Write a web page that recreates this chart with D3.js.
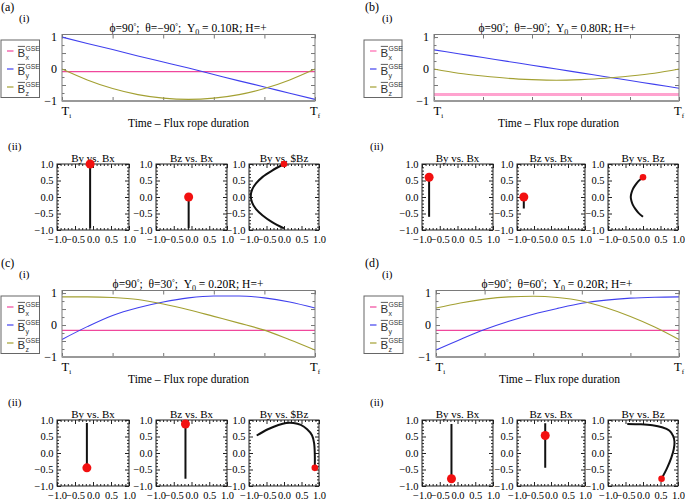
<!DOCTYPE html>
<html><head><meta charset="utf-8">
<script src="https://cdn.jsdelivr.net/npm/d3@7"></script>
<style>body{margin:0;background:#fff}svg{display:block}</style>
</head><body>
<script>
// ---------------- DATA ----------------
const timeFrac = [0, 0.1, 0.2, 0.3, 0.4, 0.5, 0.6, 0.7, 0.8, 0.9, 1.0];

const panelLabels = ["(a)", "(b)", "(c)", "(d)"];
const phiDeg   = ["90", "90", "90", "90"];
const thetaDeg = ["−90", "−90", "30", "60"];
const y0R      = ["0.10", "0.80", "0.20", "0.20"];
const helicity = ["+", "+", "+", "+"];

// panel (a)
const bxA = [-0.08, -0.08, -0.08, -0.08, -0.08, -0.08, -0.08, -0.08, -0.08, -0.08, -0.08];
const byA = [1.00, 0.80, 0.61, 0.41, 0.22, 0.03, -0.17, -0.37, -0.56, -0.76, -0.95];
const bzA = [0.00, -0.34, -0.61, -0.80, -0.91, -0.95, -0.91, -0.80, -0.61, -0.34, 0.00];
// panel (b)
const bxB = [-0.80, -0.80, -0.80, -0.80, -0.80, -0.80, -0.80, -0.80, -0.80, -0.80, -0.80];
const byB = [0.60, 0.48, 0.36, 0.24, 0.12, 0.00, -0.12, -0.24, -0.36, -0.48, -0.60];
const bzB = [0.00, -0.13, -0.22, -0.29, -0.33, -0.35, -0.33, -0.29, -0.22, -0.13, 0.00];
// panel (c)
const bxC = [-0.17, -0.17, -0.17, -0.17, -0.17, -0.17, -0.17, -0.17, -0.17, -0.17, -0.17];
const byC = [-0.45, -0.05, 0.30, 0.54, 0.72, 0.85, 0.91, 0.91, 0.85, 0.72, 0.53];
const bzC = [0.88, 0.88, 0.86, 0.80, 0.66, 0.48, 0.27, 0.06, -0.16, -0.46, -0.78];
// panel (d)
const bxD = [-0.17, -0.17, -0.17, -0.17, -0.17, -0.17, -0.17, -0.17, -0.17, -0.17, -0.17];
const byD = [-0.78, -0.45, -0.14, 0.12, 0.34, 0.52, 0.68, 0.78, 0.84, 0.87, 0.88];
const bzD = [0.53, 0.69, 0.81, 0.88, 0.90, 0.86, 0.75, 0.54, 0.27, -0.06, -0.45];

const hodoTitles = [
  ["By vs. Bx", "Bz vs. Bx", "By vs. $Bz"],
  ["By vs. Bx", "Bz vs. Bx", "By vs. Bz"],
  ["By vs. Bx", "Bz vs. Bx", "By vs. $Bz"],
  ["By vs. Bx", "Bz vs. Bx", "By vs. Bz"]
];
const legendComps = ["x", "y", "z"];
const timeTicks = [0, 0.2, 0.4, 0.6, 0.8, 1.0];
const fieldMajorTicks = [-1, -0.5, 0, 0.5, 1];
const fieldLabelTicks = [-1, 0, 1];
const fieldMinorTicks = [-0.75, -0.25, 0.25, 0.75];
const hodoMajorTicks = [-1.0, -0.5, 0.0, 0.5, 1.0];
const hodoMinorTicks = [-0.9,-0.8,-0.7,-0.6,-0.4,-0.3,-0.2,-0.1,0.1,0.2,0.3,0.4,0.6,0.7,0.8,0.9];

// ---------------- STYLE / LAYOUT ----------------
const serif = "'Liberation Serif','Times New Roman',serif";
const sans = "'Liberation Sans',Arial,sans-serif";
const colors = {x: "#f0479c", y: "#4040ee", z: "#a3a032"};

const layouts = [
  {oy: 0,   panelX: 1,   iX: 19,  iiX: 8,   titleX: 188, frameL: 62,  frameR: 315, legL: 1,   legR: 39.5, hodoL: [57, 156, 249], hodoW: [72, 71, 70], bxW: 1.2, bxC: colors.x},
  {oy: 0,   panelX: 365, iX: 382, iiX: 370, titleX: 557, frameL: 434, frameR: 679, legL: 364, legR: 402,  hodoL: [422, 517, 608], hodoW: [71, 68, 70], bxW: 3, bxC: "#ffa3cf"},
  {oy: 256, panelX: 1,   iX: 19,  iiX: 8,   titleX: 188, frameL: 62,  frameR: 315, legL: 1,   legR: 39.5, hodoL: [57, 156, 249], hodoW: [72, 71, 70], bxW: 1.2, bxC: colors.x},
  {oy: 256, panelX: 365, iX: 382, iiX: 370, titleX: 557, frameL: 436, frameR: 679, legL: 364, legR: 403,  hodoL: [422, 517, 608], hodoW: [71, 68, 70], bxW: 1.2, bxC: colors.x}
];

const series = [
  {bx: bxA, by: byA, bz: bzA},
  {bx: bxB, by: byB, bz: bzB},
  {bx: bxC, by: byC, bz: bzC},
  {bx: bxD, by: byD, bz: bzD}
];

const svg = d3.select("body").append("svg").attr("width", 685).attr("height", 499);

function stripDomain(sel) { sel.select(".domain").remove(); }

function drawPanel(i) {
  const L = layouts[i], S = series[i];
  const g = svg.append("g").attr("transform", `translate(0,${L.oy})`);

  g.append("text").attr("x", L.panelX).attr("y", 11).attr("font-family", serif).attr("font-size", 12).text(panelLabels[i]);
  g.append("text").attr("x", L.iX).attr("y", 22).attr("font-family", serif).attr("font-size", 11).text("(i)");
  g.append("text").attr("x", L.iiX).attr("y", 150).attr("font-family", serif).attr("font-size", 11).text("(ii)");

  // title
  const t = g.append("text").attr("x", L.titleX).attr("y", 31.5).attr("text-anchor", "middle")
    .attr("font-family", serif).attr("font-size", 11.5);
  t.append("tspan").text("ϕ=" + phiDeg[i]);
  t.append("tspan").attr("dy", -4).attr("font-size", 7).text("°");
  t.append("tspan").attr("dy", 4).text(";\u00a0 θ=" + thetaDeg[i]);
  t.append("tspan").attr("dy", -4).attr("font-size", 7).text("°");
  t.append("tspan").attr("dy", 4).text(";\u00a0 Y");
  t.append("tspan").attr("dy", 3).attr("font-size", 8).text("0");
  t.append("tspan").attr("dy", -3).text(" = " + y0R[i] + "R; H=" + helicity[i]);

  // ---- time series plot ----
  const top = 34.5, bot = 101;
  const x = d3.scaleLinear().domain([0, 1]).range([L.frameL, L.frameR]);
  const y = d3.scaleLinear().domain([-1, 1.08]).range([bot, top]);

  const ax = g.append("g").attr("font-family", serif);
  ax.append("g").attr("transform", `translate(${L.frameL},0)`)
    .call(d3.axisLeft(y).tickValues(fieldMajorTicks).tickSizeInner(-4).tickSizeOuter(0).tickPadding(5)
      .tickFormat(d => fieldLabelTicks.includes(d) ? d3.format("d")(d) : ""))
    .call(stripDomain).call(s => s.selectAll("text").attr("font-family", serif).attr("font-size", 12).attr("fill", "#000"));
  ax.append("g").attr("transform", `translate(${L.frameL},0)`)
    .call(d3.axisLeft(y).tickValues(fieldMinorTicks).tickSizeInner(-2.5).tickSizeOuter(0).tickFormat(""))
    .call(stripDomain);
  ax.append("g").attr("transform", `translate(${L.frameR},0)`)
    .call(d3.axisRight(y).tickValues(fieldMajorTicks).tickSizeInner(-4).tickSizeOuter(0).tickFormat(""))
    .call(stripDomain);
  ax.append("g").attr("transform", `translate(${L.frameR},0)`)
    .call(d3.axisRight(y).tickValues(fieldMinorTicks).tickSizeInner(-2.5).tickSizeOuter(0).tickFormat(""))
    .call(stripDomain);
  ax.append("g").attr("transform", `translate(0,${bot})`)
    .call(d3.axisBottom(x).tickValues(timeTicks).tickSizeInner(-4).tickSizeOuter(0).tickFormat(""))
    .call(stripDomain);
  ax.append("g").attr("transform", `translate(0,${top})`)
    .call(d3.axisTop(x).tickValues(timeTicks).tickSizeInner(-4).tickSizeOuter(0).tickFormat(""))
    .call(stripDomain);
  ax.selectAll(".tick line").attr("stroke", "#777");

  const line = d3.line().x((d, k) => x(timeFrac[k])).y(d => y(d)).curve(d3.curveMonotoneX);
  g.append("path").datum(S.bx).attr("d", line).attr("fill", "none").attr("stroke", L.bxC).attr("stroke-width", L.bxW);
  g.append("path").datum(S.by).attr("d", line).attr("fill", "none").attr("stroke", colors.y).attr("stroke-width", 1.1);
  g.append("path").datum(S.bz).attr("d", line).attr("fill", "none").attr("stroke", colors.z).attr("stroke-width", 1.1);

  g.append("rect").attr("x", L.frameL).attr("y", top).attr("width", L.frameR - L.frameL).attr("height", bot - top)
    .attr("fill", "none").attr("stroke", "#7a7a7a").attr("stroke-width", 1);
  g.append("line").attr("x1", L.frameL).attr("x2", L.frameR).attr("y1", bot).attr("y2", bot)
    .attr("stroke", "#999").attr("stroke-width", 2);

  // Ti / Tf
  const ti = g.append("text").attr("x", x(0) - 0.5).attr("y", 115).attr("font-family", serif).attr("font-size", 12.5);
  ti.append("tspan").text("T"); ti.append("tspan").attr("dy", 3).attr("font-size", 7).text("i");
  const tf = g.append("text").attr("x", x(1) - 5).attr("y", 115).attr("font-family", serif).attr("font-size", 12.5);
  tf.append("tspan").text("T"); tf.append("tspan").attr("dy", 3).attr("font-size", 7).text("f");
  g.append("text").attr("x", (L.frameL + L.frameR) / 2 + (i % 2 ? 2 : 0)).attr("y", 127).attr("text-anchor", "middle")
    .attr("font-family", serif).attr("font-size", 11.5).text("Time – Flux rope duration");

  // legend
  g.append("rect").attr("x", L.legL).attr("y", 40).attr("width", L.legR - L.legL).attr("height", 57.5)
    .attr("fill", "#fff").attr("stroke", "#666").attr("stroke-width", 1);
  legendComps.forEach((c, k) => {
    const cy = 51 + k * 18;
    const lx = L.legL;
    g.append("line").attr("x1", lx + 6).attr("x2", lx + 12.5).attr("y1", cy).attr("y2", cy)
      .attr("stroke", k === 0 ? L.bxC : colors[c]).attr("stroke-width", k === 0 ? Math.min(L.bxW, 2) : 1.2);
    g.append("text").attr("x", lx + 16.5).attr("y", cy + 6).attr("font-family", sans).attr("font-size", 11.5).attr("fill", "#333").text("B");
    g.append("line").attr("x1", lx + 16.8).attr("x2", lx + 24).attr("y1", cy - 4.6).attr("y2", cy - 4.6)
      .attr("stroke", "#333").attr("stroke-width", 0.8);
    g.append("text").attr("x", lx + 24.5).attr("y", cy - 0.5).attr("font-family", sans).attr("font-size", 6.8).attr("fill", "#333").text("GSE");
    g.append("text").attr("x", lx + 24.5).attr("y", cy + 8.5).attr("font-family", sans).attr("font-size", 7).attr("fill", "#333").text(c);
  });

  // ---- hodograms ----
  const hTop = 164, hBot = 230;
  const pairs = [[S.bx, S.by], [S.bx, S.bz], [S.bz, S.by]];
  const dotR = [4.5, 4.5, 3.3];
  pairs.forEach((pr, h) => {
    const hl = L.hodoL[h], hr = hl + L.hodoW[h];
    const hx = d3.scaleLinear().domain([-1, 1]).range([hl, hr]);
    const hy = d3.scaleLinear().domain([-1, 1]).range([hBot, hTop]);
    const hg = g.append("g");
    const fmt = d3.format(".1f");
    const fontize = s => s.selectAll("text").attr("font-family", serif).attr("font-size", 10.5).attr("fill", "#000");
    hg.append("g").attr("transform", `translate(${hl},0)`)
      .call(d3.axisLeft(hy).tickValues(hodoMajorTicks).tickSizeInner(-4).tickSizeOuter(0).tickPadding(3.5).tickFormat(fmt))
      .call(stripDomain).call(fontize);
    hg.append("g").attr("transform", `translate(${hl},0)`)
      .call(d3.axisLeft(hy).tickValues(hodoMinorTicks).tickSizeInner(-2).tickSizeOuter(0).tickFormat("")).call(stripDomain);
    hg.append("g").attr("transform", `translate(${hr},0)`)
      .call(d3.axisRight(hy).tickValues(hodoMajorTicks).tickSizeInner(-4).tickSizeOuter(0).tickFormat("")).call(stripDomain);
    hg.append("g").attr("transform", `translate(${hr},0)`)
      .call(d3.axisRight(hy).tickValues(hodoMinorTicks).tickSizeInner(-2).tickSizeOuter(0).tickFormat("")).call(stripDomain);
    hg.append("g").attr("transform", `translate(0,${hBot})`)
      .call(d3.axisBottom(hx).tickValues(hodoMajorTicks).tickSizeInner(-4).tickSizeOuter(0).tickPadding(5.5).tickFormat(fmt))
      .call(stripDomain).call(fontize);
    hg.append("g").attr("transform", `translate(0,${hBot})`)
      .call(d3.axisBottom(hx).tickValues(hodoMinorTicks).tickSizeInner(-2).tickSizeOuter(0).tickFormat("")).call(stripDomain);
    hg.append("g").attr("transform", `translate(0,${hTop})`)
      .call(d3.axisTop(hx).tickValues(hodoMajorTicks).tickSizeInner(-4).tickSizeOuter(0).tickFormat("")).call(stripDomain);
    hg.append("g").attr("transform", `translate(0,${hTop})`)
      .call(d3.axisTop(hx).tickValues(hodoMinorTicks).tickSizeInner(-2).tickSizeOuter(0).tickFormat("")).call(stripDomain);
    hg.selectAll(".tick line").attr("stroke", "#222");
    hg.append("rect").attr("x", hl).attr("y", hTop).attr("width", hr - hl).attr("height", hBot - hTop)
      .attr("fill", "none").attr("stroke", "#222").attr("stroke-width", 1);
    hg.append("text").attr("x", (hl + hr) / 2).attr("y", 161.5).attr("text-anchor", "middle")
      .attr("font-family", serif).attr("font-size", 11).text(hodoTitles[i][h]);
    const pts = pr[0].map((v, k) => [v, pr[1][k]]);
    const hline = d3.line().x(d => hx(d[0])).y(d => hy(d[1])).curve(d3.curveCatmullRom.alpha(0.5));
    hg.append("path").datum(pts).attr("d", hline).attr("fill", "none").attr("stroke", "#111").attr("stroke-width", 2);
    hg.append("circle").attr("cx", hx(pts[0][0])).attr("cy", hy(pts[0][1])).attr("r", dotR[h]).attr("fill", "#f21010");
  });
}

[0, 1, 2, 3].forEach(drawPanel);
</script>
</body></html>
